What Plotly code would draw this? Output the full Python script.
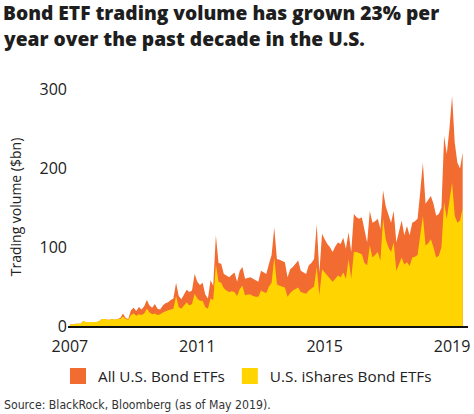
import plotly.graph_objects as go

# Monthly, Jan 2007 .. May 2019
start_year = 2007
all_bond_etfs = [
    2, 2, 3, 3, 3, 6, 5, 5, 5, 5, 5, 6,
    9, 9, 8, 8, 9, 8, 9, 10, 16, 10, 9, 20,
    23, 19, 24, 21, 25, 33, 26, 23, 28, 22, 21, 26,
    29, 30, 33, 35, 55, 38, 34, 40, 46, 43, 45, 66,
    56, 52, 55, 40, 35, 58, 51, 115, 80, 79, 66, 64,
    62, 65, 68, 56, 70, 75, 60, 61, 62, 60, 58, 56,
    70, 68, 66, 79, 90, 125, 85, 84, 82, 81, 62, 72,
    75, 79, 83, 70, 68, 66, 77, 80, 85, 129, 68, 117,
    110, 104, 100, 94, 101, 106, 104, 112, 98, 119, 94, 142,
    138, 136, 138, 120, 106, 146, 131, 133, 136, 123, 172, 152,
    140, 131, 146, 106, 120, 134, 115, 127, 115, 131, 133, 136,
    170, 207, 155, 160, 165, 155, 140, 142, 150, 241, 218, 250,
    292, 233, 207, 200, 220,
]
ishares_bond_etfs = [
    2, 2, 3, 3, 3, 6, 5, 5, 5, 5, 5, 6,
    9, 9, 8, 8, 9, 8, 9, 9, 12, 9, 8, 14,
    16, 13, 15, 14, 16, 22, 17, 15, 16, 14, 15, 17,
    19, 20, 21, 22, 38, 24, 22, 26, 30, 26, 28, 41,
    35, 32, 32, 24, 22, 35, 33, 78, 56, 55, 48, 45,
    43, 44, 43, 38, 47, 51, 39, 40, 40, 38, 37, 37,
    45, 43, 42, 50, 55, 87, 53, 51, 50, 49, 37, 42,
    45, 47, 49, 43, 42, 41, 45, 48, 50, 75, 39, 72,
    68, 64, 60, 56, 60, 64, 62, 68, 60, 85, 60, 94,
    94, 92, 91, 80, 77, 102, 87, 90, 94, 83, 136, 110,
    100, 94, 106, 70, 80, 87, 78, 81, 76, 87, 88, 90,
    115, 140, 102, 105, 110, 100, 87, 89, 100, 157, 136, 160,
    182, 140, 131, 134, 150,
]
x_years = [start_year + i / 12 for i in range(len(all_bond_etfs))]

series_names = ["All U.S. Bond ETFs", "U.S. iShares Bond ETFs"]
x_tick_vals = [2007, 2011, 2015, 2019]
y_tick_vals = [0, 100, 200, 300]
title_lines = ["Bond ETF trading volume has grown 23% per",
               "year over the past decade in the U.S."]
source_text = "Source: BlackRock, Bloomberg (as of May 2019)."

ORANGE = "#F26B30"
YELLOW = "#FFD400"
TEXT = "#222222"
FONT = "Open Sans, sans-serif"

fig = go.Figure()
fig.add_trace(go.Scatter(x=x_years, y=all_bond_etfs, mode="lines", fill="tozeroy",
                         line=dict(width=0, color=ORANGE), fillcolor=ORANGE,
                         showlegend=False, hoverinfo="skip"))
fig.add_trace(go.Scatter(x=x_years, y=ishares_bond_etfs, mode="lines", fill="tozeroy",
                         line=dict(width=0, color=YELLOW), fillcolor=YELLOW,
                         showlegend=False, hoverinfo="skip"))
# legend entries
for name, col in zip(series_names, [ORANGE, YELLOW]):
    fig.add_trace(go.Scatter(x=[None], y=[None], mode="markers", name=name,
                             marker=dict(symbol="square", size=16, color=col)))

# plot area: left 68, right 470, top 88, bottom 326 (px)
L, R, T, B = 68, 470, 88, 326
def px(xp):
    return (xp - L) / (R - L)
def py(yp):
    return (B - yp) / (B - T)

annotations = []
for i, line in enumerate(title_lines):
    annotations.append(dict(text=line, xref="paper", yref="paper",
                            x=px(1), y=py(12 + 26 * i), xanchor="left", yanchor="middle",
                            showarrow=False,
                            font=dict(family=FONT, size=19.2, weight=800, color="#1e1e1e")))
annotations.append(dict(text=source_text, xref="paper", yref="paper", x=px(2), y=py(405),
                        xanchor="left", yanchor="middle", showarrow=False,
                        font=dict(family="Liberation Sans Narrow, DejaVu Sans Condensed, sans-serif",
                                  size=12.2, color="#333333")))

fig.update_layout(
    width=474, height=414,
    margin=dict(l=L, r=474 - R, t=T, b=414 - B),
    paper_bgcolor="white", plot_bgcolor="white",
    font=dict(family=FONT, color=TEXT, size=15),
    xaxis=dict(range=[2006.94, 2019.5], tickvals=x_tick_vals, ticktext=[str(v) for v in x_tick_vals],
               showgrid=False, zeroline=False, showline=True, linecolor="#111111", linewidth=2,
               ticks="", ticklabelstandoff=5, tickfont=dict(size=16, color=TEXT), fixedrange=True),
    yaxis=dict(range=[0, 302], tickvals=y_tick_vals, showgrid=False, zeroline=False,
               showline=False, ticks="", tickfont=dict(size=16, color=TEXT),
               title=dict(text="Trading volume ($bn)", font=dict(size=14, color=TEXT), standoff=14),
               fixedrange=True),
    legend=dict(orientation="h", x=-0.025, xanchor="left", y=py(376), yanchor="middle",
                font=dict(size=15.3, color=TEXT), itemwidth=30, tracegroupgap=0,
                bgcolor="rgba(0,0,0,0)"),
    annotations=annotations,
)

fig.write_html("out.html", config={"displayModeBar": False},
               post_script="document.body.style.margin='0';")
